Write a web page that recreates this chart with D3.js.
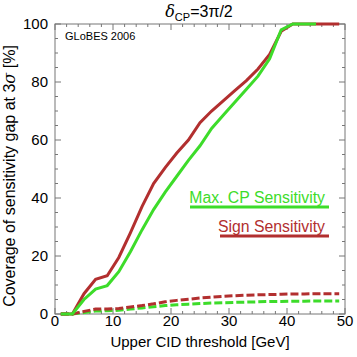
<!DOCTYPE html>
<html>
<head>
<meta charset="utf-8">
<script src="https://cdn.jsdelivr.net/npm/d3@7"></script>
<style>
  body { margin: 0; background: #fff; }
  svg text { font-family: "Liberation Sans", Arial, sans-serif; }
</style>
</head>
<body>
<svg id="chart" width="357" height="357"></svg>
<script>
// values (threshold in GeV, coverage in %)
const signX = [1, 3, 5, 7, 9, 11, 13, 15, 17, 19, 21, 23, 25, 27, 29, 31, 33, 35, 37, 39, 41, 43, 45, 47, 49]
const signMax = [0, 0, 7, 12, 13.2, 19.5, 28, 37, 45, 50.5, 55.5, 60, 66, 70, 73.5, 77, 80.5, 84.5, 89.5, 97.5, 100, 100, 100, 100, 100]
const cpX = [1, 3, 5, 7, 9, 11, 13, 15, 17, 19, 21, 23, 25, 27, 29, 31, 33, 35, 37, 39, 41, 43, 45]
const cpMax = [0, 0, 5, 8.6, 9.8, 14.6, 21.5, 29, 36, 42, 47.5, 53, 58, 64, 68.5, 73, 77.5, 82, 88, 98, 100, 100, 100]
const lowX = [1, 3, 5, 7, 9, 11, 13, 15, 17, 19, 21, 23, 25, 27, 29, 31, 33, 35, 37, 39, 41, 43, 45, 47, 49]
const signMin = [0, 0, 0.9, 1.7, 1.7, 1.9, 2.4, 2.9, 3.5, 4.2, 4.7, 5.1, 5.5, 5.8, 6.1, 6.3, 6.5, 6.6, 6.7, 6.8, 6.9, 6.9, 7.0, 7.0, 7.0]
const cpMin = [0, 0, 0.5, 1.0, 1.1, 1.3, 1.7, 2.1, 2.5, 2.9, 3.2, 3.4, 3.6, 3.8, 3.9, 4.0, 4.1, 4.2, 4.3, 4.3, 4.4, 4.4, 4.5, 4.5, 4.5]

const xTicks = [0, 10, 20, 30, 40, 50]
const yTicks = [0, 20, 40, 60, 80, 100]

const red = "#b22f2f"
const green = "#3ddc2a"

const svg = d3.select("#chart")
const pLeft = 55, pRight = 345, pTop = 24, pBottom = 314

const x = d3.scaleLinear().domain([0, 50]).range([pLeft, pRight])
const y = d3.scaleLinear().domain([0, 100]).range([pBottom, pTop])

// frame
svg.append("rect")
    .attr("x", pLeft).attr("y", pTop)
    .attr("width", pRight - pLeft).attr("height", pBottom - pTop)
    .attr("fill", "none").attr("stroke", "#777").attr("stroke-width", 1)

// ticks pointing inwards on all four sides
const xMinor = d3.range(0, 51, 2)
const yMinor = d3.range(0, 101, 5)
const tickCol = "#777"
xMinor.forEach(v => {
    let len = v % 10 == 0 ? 6 : 3
    svg.append("line").attr("x1", x(v)).attr("x2", x(v)).attr("y1", pBottom).attr("y2", pBottom - len).attr("stroke", tickCol)
    svg.append("line").attr("x1", x(v)).attr("x2", x(v)).attr("y1", pTop).attr("y2", pTop + len).attr("stroke", tickCol)
})
yMinor.forEach(v => {
    let len = v % 20 == 0 ? 6 : 3
    svg.append("line").attr("y1", y(v)).attr("y2", y(v)).attr("x1", pLeft).attr("x2", pLeft + len).attr("stroke", tickCol)
    svg.append("line").attr("y1", y(v)).attr("y2", y(v)).attr("x1", pRight).attr("x2", pRight - len).attr("stroke", tickCol)
})

// tick labels
svg.selectAll(".xl").data(xTicks).join("text")
    .attr("x", d => x(d)).attr("y", pBottom + 12)
    .attr("text-anchor", "middle").attr("font-size", 15)
    .text(d => d)
svg.selectAll(".yl").data(yTicks).join("text")
    .attr("x", pLeft - 7).attr("y", d => y(d) + 5)
    .attr("text-anchor", "end").attr("font-size", 15)
    .text(d => d)

// lines
const line = d3.line().x(d => x(d[0])).y(d => y(d[1]))
function draw(xs, ys, col, dash) {
    svg.append("path")
        .datum(xs.map((v, i) => [v, ys[i]]))
        .attr("d", line)
        .attr("fill", "none")
        .attr("stroke", col)
        .attr("stroke-width", 3)
        .attr("stroke-dasharray", dash)
}
draw(lowX, cpMin, green, "8,3")
draw(lowX, signMin, red, "8,3")
draw(signX, signMax, red, null)
draw(cpX, cpMax, green, null)

// title
const title = svg.append("text").attr("x", 199).attr("y", 17).attr("text-anchor", "middle").attr("font-size", 16)
title.append("tspan").attr("font-family", "DejaVu Serif").attr("font-style", "italic").text("δ")
title.append("tspan").attr("font-size", 11).attr("dy", 4).text("CP")
title.append("tspan").attr("dy", -4).text("=3π/2")

svg.append("text").attr("x", 65).attr("y", 40).attr("font-size", 11).text("GLoBES 2006")

// axis labels
svg.append("text").attr("x", 200).attr("y", 347).attr("text-anchor", "middle").attr("font-size", 15)
    .text("Upper CID threshold [GeV]")
const yl = svg.append("text").attr("transform", "translate(15,176) rotate(-90)")
    .attr("text-anchor", "middle").attr("font-size", 16)
yl.append("tspan").text("Coverage of sensitivity gap at 3")
yl.append("tspan").attr("font-family", "DejaVu Serif").attr("font-style", "italic").text("σ")
yl.append("tspan").text(" [%]")

// legend
svg.append("text").attr("x", 325).attr("y", 203).attr("text-anchor", "end").attr("font-size", 15.8)
    .attr("fill", green).text("Max. CP Sensitivity")
svg.append("line").attr("x1", 190).attr("x2", 329).attr("y1", 207).attr("y2", 207).attr("stroke", green).attr("stroke-width", 3)
svg.append("text").attr("x", 325).attr("y", 232).attr("text-anchor", "end").attr("font-size", 15.8)
    .attr("fill", red).text("Sign Sensitivity")
svg.append("line").attr("x1", 220).attr("x2", 329).attr("y1", 236).attr("y2", 236).attr("stroke", red).attr("stroke-width", 3)
</script>
</body>
</html>
